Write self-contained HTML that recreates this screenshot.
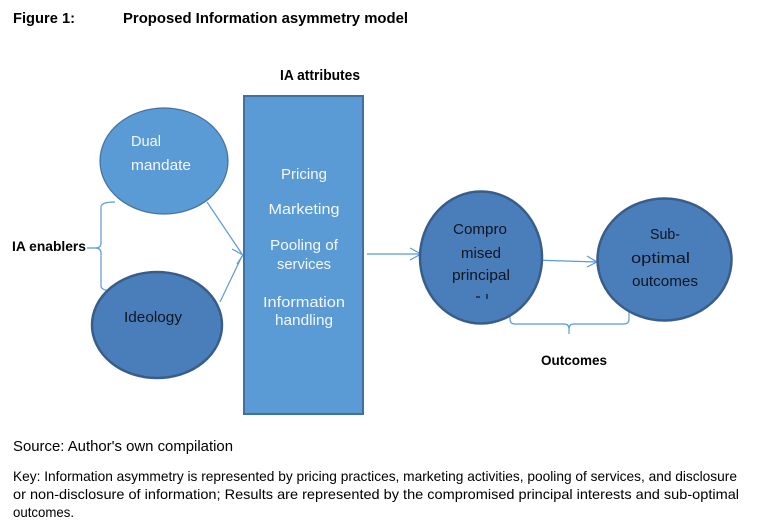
<!DOCTYPE html>
<html><head><meta charset="utf-8"><style>
html,body{margin:0;padding:0;background:#fff;}
svg{display:block;}
</style></head><body>
<svg width="763" height="530" viewBox="0 0 763 530" xmlns="http://www.w3.org/2000/svg" font-family="'Liberation Sans', Arial, sans-serif">
<rect width="763" height="530" fill="#fff"/>
<!-- Title -->
<text x="13" y="23" font-size="15" font-weight="bold" fill="#000" textLength="62" lengthAdjust="spacingAndGlyphs">Figure 1:</text>
<text x="123" y="23" font-size="15" font-weight="bold" fill="#000" textLength="285" lengthAdjust="spacingAndGlyphs">Proposed Information asymmetry model</text>
<text x="280" y="80" font-size="14.5" font-weight="bold" fill="#000" textLength="80" lengthAdjust="spacingAndGlyphs">IA attributes</text>
<text x="12" y="251" font-size="13.5" font-weight="bold" fill="#000" textLength="74" lengthAdjust="spacingAndGlyphs">IA enablers</text>
<text x="541" y="365" font-size="14" font-weight="bold" fill="#000" textLength="66" lengthAdjust="spacingAndGlyphs">Outcomes</text>

<!-- connectors -->
<g fill="none" stroke="#5b9bd5" stroke-width="1.2">
  <path d="M115,202 Q101,202 101,207 L101,243 Q101,248 95,248 L87,248 M95,248 Q101,248 101,253 L101,286 Q101,291 115,291"/>
  <path d="M207,202 L242,254"/>
  <path d="M220,302 L242,256"/>
  <path d="M232,249 L243,255 L237,264"/>
  <path d="M367,254 L421,254"/>
  <path d="M410,248 L421,254 L410,260"/>
  <path d="M533,260 L597,262"/>
  <path d="M587,256 L597,262 L587,267"/>
  <path d="M510,314 L510,319 Q510,324 515,324 L564,324 Q569,324 569,329 L569,334 M569,329 Q569,324 574,324 L624,324 Q629,324 629,319 L629,312"/>
</g>

<!-- shapes -->
<ellipse cx="164" cy="161" rx="64" ry="53" fill="#5b9bd5" stroke="#41719c" stroke-width="1.2"/>
<ellipse cx="157" cy="325" rx="65" ry="53" fill="#4a7ebb" stroke="#385d8a" stroke-width="2.5"/>
<rect x="244" y="96" width="119" height="318" fill="#5b9bd5" stroke="#41719c" stroke-width="2"/>
<ellipse cx="481" cy="257.5" rx="61" ry="66" fill="#4a7ebb" stroke="#385d8a" stroke-width="2.5"/>
<ellipse cx="664.5" cy="259.5" rx="67" ry="61" fill="#4a7ebb" stroke="#385d8a" stroke-width="2.5"/>

<!-- shape labels -->
<g font-size="15">
  <text x="131" y="146" fill="#f4f8fc" textLength="30" lengthAdjust="spacingAndGlyphs">Dual</text>
  <text x="131" y="170" fill="#f4f8fc" textLength="60" lengthAdjust="spacingAndGlyphs">mandate</text>
  <text x="124" y="322" fill="#0d1520" textLength="58" lengthAdjust="spacingAndGlyphs">Ideology</text>
  <g fill="#f4f8fc" text-anchor="middle">
    <text x="304" y="179" textLength="46" lengthAdjust="spacingAndGlyphs">Pricing</text>
    <text x="304" y="214" textLength="71" lengthAdjust="spacingAndGlyphs">Marketing</text>
    <text x="304" y="250" textLength="68" lengthAdjust="spacingAndGlyphs">Pooling of</text>
    <text x="304" y="269" textLength="54" lengthAdjust="spacingAndGlyphs">services</text>
    <text x="304" y="307" textLength="82" lengthAdjust="spacingAndGlyphs">Information</text>
    <text x="304" y="325" textLength="58" lengthAdjust="spacingAndGlyphs">handling</text>
  </g>
  <g fill="#0d1520">
    <text x="453" y="234" textLength="54" lengthAdjust="spacingAndGlyphs">Compro</text>
    <text x="461" y="258" textLength="40" lengthAdjust="spacingAndGlyphs">mised</text>
    <text x="452" y="280" textLength="58" lengthAdjust="spacingAndGlyphs">principal</text>
    <text x="650" y="239" textLength="30" lengthAdjust="spacingAndGlyphs">Sub-</text>
    <text x="631" y="263" textLength="59" lengthAdjust="spacingAndGlyphs">optimal</text>
    <text x="632" y="286" textLength="66" lengthAdjust="spacingAndGlyphs">outcomes</text>
  </g>
</g>
<g stroke="#0d1520" stroke-width="1.2">
  <line x1="476" y1="297" x2="480" y2="297"/>
  <line x1="487" y1="294" x2="487" y2="299"/>
</g>

<!-- source & key -->
<text x="13" y="451" font-size="14.5" fill="#000" textLength="220" lengthAdjust="spacingAndGlyphs">Source: Author's own compilation</text>
<g font-size="14" fill="#000">
  <text x="13" y="481" textLength="724" lengthAdjust="spacingAndGlyphs">Key: Information asymmetry is represented by pricing practices, marketing activities, pooling of services, and disclosure</text>
  <text x="13" y="499" textLength="726" lengthAdjust="spacingAndGlyphs">or non-disclosure of information; Results are represented by the compromised principal interests and sub-optimal</text>
  <text x="13" y="517" textLength="61" lengthAdjust="spacingAndGlyphs">outcomes.</text>
</g>
</svg>
</body></html>
